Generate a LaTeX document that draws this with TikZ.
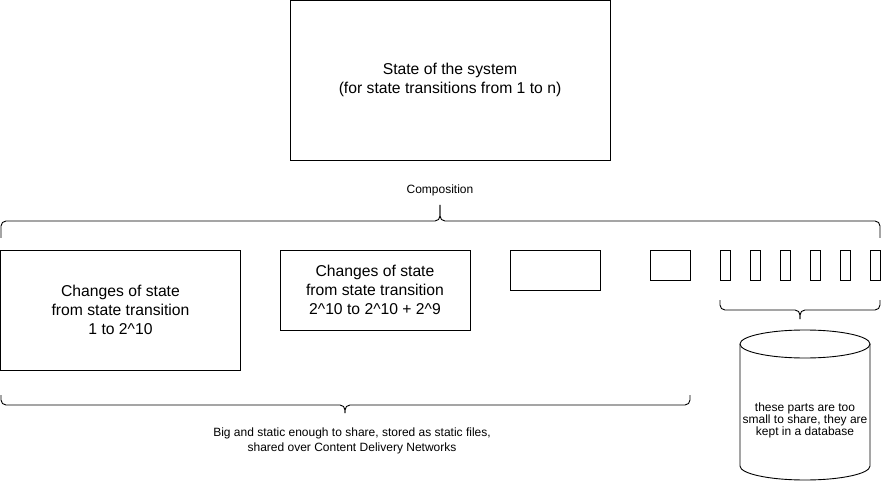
\documentclass[tikz,border=0pt]{standalone}
\usepackage{fontspec}
\setmainfont{Liberation Sans}
\usetikzlibrary{positioning}
\begin{document}
\begin{tikzpicture}
  [x=1pt,y=-1pt,line width=0.9pt,
   every node/.style={align=center,inner sep=0pt,outer sep=0pt},
   box/.style={draw,font=\fontsize{15.7}{19}\selectfont},
   note/.style={font=\fontsize{12}{15}\selectfont},
   curly/.style={rounded corners=5pt}]
  \useasboundingbox (0,0) rectangle (881,481);

  \node[box,minimum width=320pt,minimum height=160pt] (sys) at (450,80)
    {State of the system\\(for state transitions from 1 to n)};
  \node[note] (comp) at (440,190) {Composition};

  % top brace
  \draw[curly] (1,238) -- (1,221) -- (440,221) -- (440,205);
  \draw[curly] (880,238) -- (880,221) -- (440,221) -- (440,205);

  \node[box,minimum width=240pt,minimum height=120pt] (p1) at (120.5,310)
    {Changes of state\\from state transition\\1 to 2\^{}10};
  \node[box,minimum width=190pt,minimum height=80pt] (p2) at (375,290)
    {Changes of state\\from state transition\\2\^{}10 to 2\^{}10 + 2\^{}9};
  \node[draw,minimum width=90pt,minimum height=40pt] (p3) at (555,270) {};
  \node[draw,minimum width=40pt,minimum height=30pt] (p4) at (670,265) {};
  \foreach \i in {0,...,5}
    \node[draw,minimum width=10pt,minimum height=30pt] (s\i) at (725+30*\i,265) {};

  % brace under the big parts
  \draw[curly] (1,395) -- (1,405) -- (345,405) -- (345,413);
  \draw[curly] (690,395) -- (690,405) -- (345,405) -- (345,413);
  \node[note] (cdn) at (352,441)
    {Big and static enough to share, stored as static files,\\shared over Content Delivery Networks};

  % brace under the small parts
  \draw[curly] (720,300) -- (720,310) -- (800,310) -- (800,319);
  \draw[curly] (880,300) -- (880,310) -- (800,310) -- (800,319);

  % database
  \draw (805,344) ellipse [x radius=65, y radius=14];
  \draw (740,344) -- (740,466) arc [start angle=180, end angle=0, x radius=65, y radius=14] -- (870,344);
  \node[note,font=\fontsize{12}{12}\selectfont] (db) at (805,420)
    {these parts are too\\small to share, they are\\kept in a database};
\end{tikzpicture}
\end{document}
